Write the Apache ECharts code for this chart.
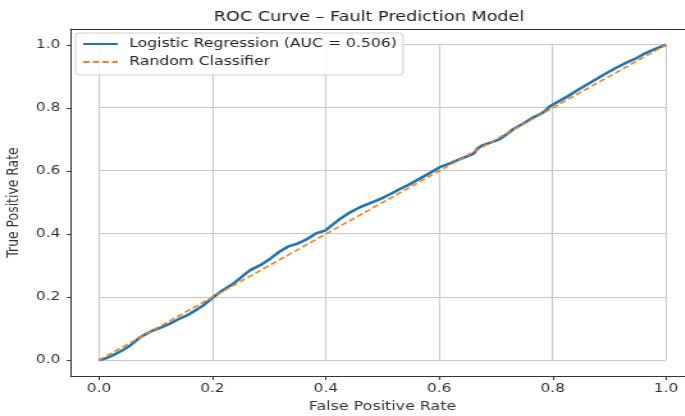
<!DOCTYPE html>
<html>
<head>
<meta charset="utf-8">
<script src="https://cdn.jsdelivr.net/npm/echarts@6/dist/echarts.min.js"></script>
<style>
html,body{margin:0;padding:0;background:#fff;overflow:hidden;width:685px;height:416px;}
#c{width:560px;height:416px;transform:scaleX(1.28);transform-origin:0 0;}
</style>
</head>
<body>
<div id="c"></div>
<script>
const fpr = [0, 0.012, 0.025, 0.04, 0.055, 0.072, 0.085, 0.096, 0.11, 0.125, 0.14, 0.155, 0.17, 0.184, 0.2, 0.215, 0.237, 0.25, 0.266, 0.285, 0.302, 0.318, 0.334, 0.349, 0.365, 0.384, 0.399, 0.412, 0.425, 0.442, 0.46, 0.478, 0.496, 0.514, 0.531, 0.545, 0.56, 0.58, 0.601, 0.62, 0.637, 0.66, 0.668, 0.675, 0.69, 0.707, 0.72, 0.731, 0.75, 0.766, 0.78, 0.788, 0.795, 0.813, 0.828, 0.842, 0.857, 0.872, 0.89, 0.913, 0.931, 0.945, 0.96, 0.98, 1.0];
const tpr = [0, 0.006, 0.016, 0.03, 0.047, 0.072, 0.085, 0.095, 0.104, 0.116, 0.13, 0.142, 0.158, 0.174, 0.198, 0.218, 0.243, 0.262, 0.285, 0.302, 0.322, 0.344, 0.361, 0.369, 0.382, 0.403, 0.411, 0.43, 0.448, 0.468, 0.485, 0.498, 0.511, 0.527, 0.543, 0.555, 0.57, 0.59, 0.612, 0.625, 0.638, 0.654, 0.672, 0.68, 0.69, 0.701, 0.718, 0.733, 0.752, 0.77, 0.782, 0.792, 0.805, 0.823, 0.838, 0.854, 0.87, 0.886, 0.905, 0.928, 0.944, 0.955, 0.97, 0.986, 1.0];
const diagX = [0, 1];
const diagY = [0, 1];
const tickValues = [0, 0.2, 0.4, 0.6, 0.8, 1.0];
const titleText = 'ROC Curve – Fault Prediction Model';
const modelName = 'Logistic Regression (AUC = 0.506)';
const randomName = 'Random Classifier';

const FONT = 'DejaVu Sans';
const SPINE = {show: true, onZero: false, lineStyle: {color: '#333', width: 1}};
const chart = echarts.init(document.getElementById('c'), null, {renderer: 'canvas'});
chart.setOption({
  animation: false,
  backgroundColor: '#fff',
  textStyle: {fontFamily: FONT},
  title: {
    text: titleText, left: 162, top: 5,
    textStyle: {fontFamily: FONT, fontSize: 13.8, fontWeight: 'normal', color: '#222'}
  },
  legend: {
    orient: 'vertical', left: 59, top: 33,
    data: [modelName, randomName],
    itemWidth: 27, itemHeight: 14, itemGap: 6,
    padding: [5, 5, 7, 5],
    itemStyle: {opacity: 0},
    backgroundColor: 'rgba(255,255,255,0.85)',
    borderColor: '#d0d0d0', borderWidth: 1, borderRadius: 3,
    textStyle: {fontFamily: FONT, fontSize: 12.2, color: '#222', padding: [0, 0, 0, 4]}
  },
  grid: [
    {left: 55.2, top: 29, width: 487.3, height: 347, show: false, outerBoundsMode: 'none'},
    {left: 77.3, top: 44, width: 443, height: 316, show: false, outerBoundsMode: 'none'}
  ],
  xAxis: [
    {
      type: 'value', gridIndex: 0, min: -0.05, max: 1.05, position: 'bottom',
      axisLine: SPINE,
      axisTick: {show: true, customValues: tickValues, length: 4, lineStyle: {color: '#333'}},
      axisLabel: {customValues: tickValues, formatter: v => v.toFixed(1), fontFamily: FONT, fontSize: 12, color: '#333', margin: 7},
      splitLine: {show: false},
      name: 'False Positive Rate', nameLocation: 'middle', nameGap: 25,
      nameTextStyle: {fontFamily: FONT, fontSize: 12.4, color: '#333'}
    },
    {
      type: 'value', gridIndex: 1, min: 0, max: 1, interval: 0.2,
      axisLine: {show: false}, axisTick: {show: false}, axisLabel: {show: false},
      splitLine: {show: true, lineStyle: {color: '#c8c8c8', width: 1}}
    },
    {
      type: 'value', gridIndex: 0, min: -0.05, max: 1.05, position: 'top',
      axisLine: SPINE, axisTick: {show: false}, axisLabel: {show: false}, splitLine: {show: false}
    }
  ],
  yAxis: [
    {
      type: 'value', gridIndex: 0, min: -0.05, max: 1.05, position: 'left',
      axisLine: SPINE,
      axisTick: {show: true, customValues: tickValues, length: 3, lineStyle: {color: '#333'}},
      axisLabel: {customValues: tickValues, formatter: v => v.toFixed(1), fontFamily: FONT, fontSize: 12, color: '#333', margin: 8},
      splitLine: {show: false},
      name: 'True Positive Rate', nameLocation: 'middle', nameGap: 33, nameRotate: 90,
      nameTextStyle: {fontFamily: FONT, fontSize: 12.4, color: '#333'}
    },
    {
      type: 'value', gridIndex: 1, min: 0, max: 1, interval: 0.2,
      axisLine: {show: false}, axisTick: {show: false}, axisLabel: {show: false},
      splitLine: {show: true, lineStyle: {color: '#c8c8c8', width: 1}}
    }
  ],
  series: [
    {
      name: modelName, type: 'line', xAxisIndex: 0, yAxisIndex: 0,
      data: fpr.map((x, i) => [x, tpr[i]]),
      symbol: 'none', smooth: false,
      lineStyle: {color: '#1f77b4', width: 2.6},
      itemStyle: {color: '#1f77b4'}, z: 4
    },
    {
      name: randomName, type: 'line', xAxisIndex: 0, yAxisIndex: 0,
      data: diagX.map((x, i) => [x, diagY[i]]),
      symbol: 'none',
      lineStyle: {color: '#ff7f0e', width: 1.6, type: [5, 2.5]},
      itemStyle: {color: '#ff7f0e'}, z: 5
    }
  ]
});
</script>
</body>
</html>
